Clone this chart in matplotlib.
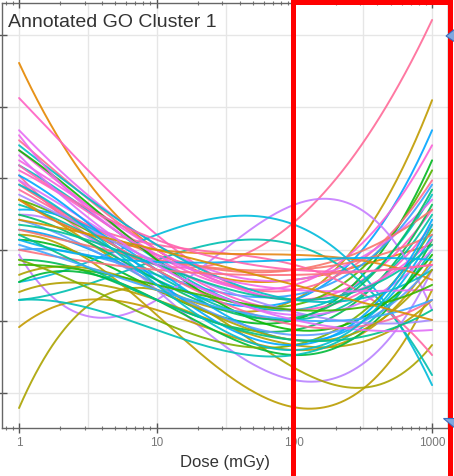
import numpy as np
import matplotlib.pyplot as plt
from matplotlib.patches import Rectangle, Polygon
from matplotlib.ticker import LogLocator, NullFormatter, FixedLocator, FixedFormatter

plt.rcParams['font.family'] = ['Liberation Sans', 'DejaVu Sans']

# fitted expression per gene, read at each dose (cubic in log10 dose)
doses = [1, 10, 100, 1000]
gene_colors = [
    '#E58700', '#FF61C3', '#FF6A98', '#C09B00', '#00A5FF', '#FB61D7', '#00B81F',
    '#53B400', '#FF6C91', '#35A2FF', '#00BFC4', '#E76BF3', '#00BC56', '#F8766D',
    '#00C1A3', '#C77CFF', '#B983FF', '#BB9D00', '#ABA300', '#00BBDB', '#00BFB0',
    '#FF67A4', '#B3A000', '#C49A00', '#00BA38', '#00C0B8', '#7CAE00', '#00B0F6',
    '#619CFF', '#F564E3', '#FF61C3', '#DB72FB', '#E68613', '#F8766D', '#00BFC4',
    '#0CB702', '#00A9FF', '#FF6A98', '#A58AFF', '#00BE67', '#00C19A', '#00B4EF',
    '#EF67EB', '#AEA200', '#FC717F', '#FF64B0', '#39B600', '#00C08B', '#3DA8FF',
    '#D89000', '#E26EF7', '#00BDD0',
]
at_1 = [
    4.61, 4.12, 3.04, 2.70, 2.28, 3.39, 2.14, 2.70, 3.53, 2.00, 3.18, 3.67, 1.86,
    2.91, 2.63, 1.93, 2.49, 2.21, -0.21, 1.55, 1.30, 2.97, 1.41, 0.92, 1.55, 1.30,
    1.86, 2.56, 2.42, 3.25, 3.11, 2.97, 2.70, 2.28, 3.46, 3.39, 3.04, 2.84, 2.77,
    2.49, 2.35, 2.14, 3.60, 1.65, 2.00, 3.18, 1.79, 2.21, 2.07, 2.42, 3.32, 2.91,
]
at_10 = [
    2.00, 2.21, 1.79, 1.51, 1.58, 1.93, 1.44, 1.72, 2.00, 1.65, 1.86, 2.07, 1.30,
    1.93, 1.65, 1.30, 1.44, 1.09, 1.44, 2.21, 1.86, 2.07, 1.30, 1.16, 1.30, 0.88,
    1.02, 1.72, 1.51, 2.00, 1.89, 1.79, 2.00, 1.86, 2.07, 1.86, 1.58, 1.72, 1.83,
    1.58, 1.79, 1.83, 1.93, 1.44, 1.72, 2.14, 1.51, 1.30, 1.44, 2.00, 1.79, 1.51,
]
at_100 = [
    1.58, 1.30, 2.39, 1.30, 1.30, 1.51, 1.02, 1.23, 1.44, 1.37, 1.16, 1.58, 0.88,
    1.72, 1.02, 2.63, 0.18, -0.20, 0.35, 2.35, 2.07, 1.79, 0.67, 0.60, 0.53, 0.53,
    0.67, 0.74, 0.81, 1.30, 1.16, 1.09, 1.93, 1.72, 1.30, 0.88, 0.67, 0.95, 1.13,
    1.05, 1.30, 1.86, 1.44, 0.74, 1.65, 1.72, 1.16, 0.74, 1.02, 1.51, 1.02, 0.60,
]
at_1000 = [
    2.07, 2.56, 5.21, 4.09, 3.67, 3.46, 3.25, 3.11, 2.97, 2.91, 2.77, 2.70, 2.63,
    2.56, 2.49, 1.16, 1.72, 1.44, 0.67, 0.11, 0.25, 0.53, 1.30, 1.86, 2.14, 2.00,
    2.28, 2.21, 1.79, 2.14, 2.35, 2.00, 1.58, 2.21, 1.72, 1.93, 2.42, 1.30, 1.02,
    2.84, 2.07, 1.86, 1.44, 1.72, 1.79, 1.79, 1.51, 1.16, 1.30, 1.02, 0.88, 2.35,
]
tick_labels = ['1', '10', '100', '1000']

fig = plt.figure(figsize=(4.54, 4.76), dpi=100)
ax = fig.add_axes([2 / 454, 48 / 476, 446 / 454, 425 / 476])
ax.set_xscale('log')
ax.set_xlim(0.752, 1305)
ax.set_ylim(-0.489, 5.447)

# light grid at every half decade and every whole unit
for gx in [1, 10 ** 0.5, 10, 10 ** 1.5, 100, 10 ** 2.5, 1000]:
    ax.axvline(gx, color='#e6e6e6', lw=1, zorder=0)
for gy in range(6):
    ax.axhline(gy, color='#e6e6e6', lw=1, zorder=0)

log_dose = np.log10(doses)
xs = np.logspace(0, 3, 200)
for color, v1, v10, v100, v1000 in zip(gene_colors, at_1, at_10, at_100, at_1000):
    coefs = np.polyfit(log_dose, [v1, v10, v100, v1000], 3)
    ax.plot(xs, np.polyval(coefs, np.log10(xs)), color=color, lw=1.4, alpha=0.9,
            solid_capstyle='round', zorder=2)

ax.xaxis.set_major_locator(FixedLocator(doses))
ax.xaxis.set_major_formatter(FixedFormatter(tick_labels))
ax.xaxis.set_minor_locator(LogLocator(base=10, subs=np.arange(2, 10)))
ax.xaxis.set_minor_formatter(NullFormatter())
ax.set_yticks(range(6))
ax.set_yticklabels([])
ax.tick_params(which='major', direction='inout', length=7, width=1, color='#555555',
               labelsize=8.5, labelcolor='#777777', top=True, pad=3)
ax.tick_params(which='minor', direction='inout', length=3, width=0.8, color='#777777', top=True)
for side in ax.spines.values():
    side.set_color('#666666')
    side.set_linewidth(1)

ax.set_xlabel('Dose (mGy)', fontsize=12, color='#333333', labelpad=4)
ax.text(0.013, 0.955, 'Annotated GO Cluster 1', transform=ax.transAxes,
        fontsize=14, color='#333333', ha='left', va='center')

# highlight box over the high-dose region
fig.add_artist(Rectangle((292.5 / 454, -0.05), 157 / 454, 1.0458, transform=fig.transFigure,
                         fill=False, edgecolor='#ff0000', lw=3.6, zorder=10))
for pts in ([(446, 36), (455, 29), (455, 42)], [(443, 418), (455, 418), (455, 428)]):
    fig.add_artist(Polygon([(px / 454, 1 - py / 476) for px, py in pts], closed=True,
                           transform=fig.transFigure, facecolor='#7fa7e0',
                           edgecolor='#3a6fc0', lw=0.8, zorder=11))

fig.savefig('out.png', dpi=100)
